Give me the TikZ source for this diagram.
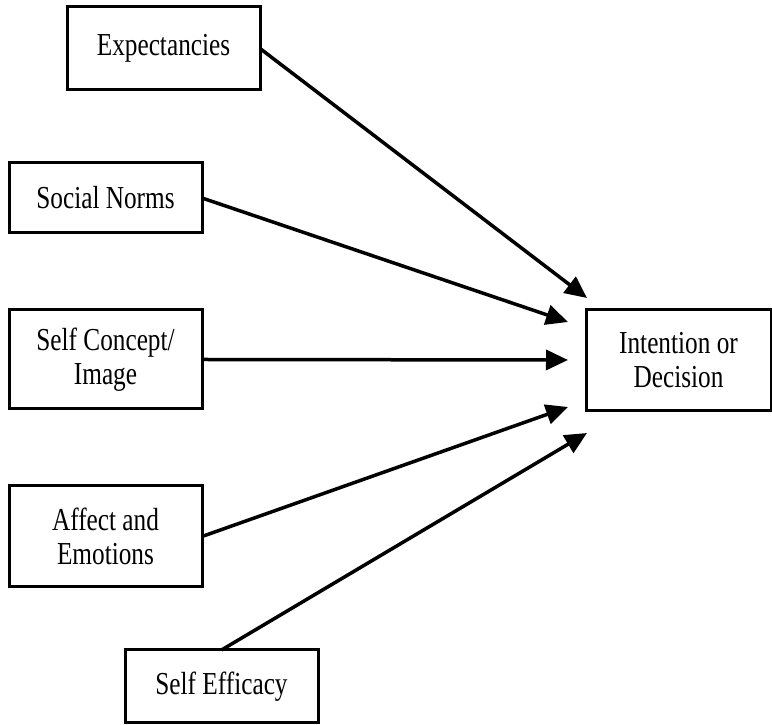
\documentclass[tikz,border=0pt]{standalone}
\usepackage{fontspec}
\setmainfont{Liberation Serif}[FakeStretch=0.79]
\usetikzlibrary{arrows.meta}
\begin{document}
\begin{tikzpicture}[x=1pt,y=1pt,
  box/.style={draw=black, line width=3pt, fill=white, inner sep=0pt, outer sep=0pt,
    align=center, font=\fontsize{32}{34}\selectfont, minimum width=193pt},
  arr/.style={line width=3.5pt, -{Triangle[length=22pt,width=20pt]}}]
\useasboundingbox (0,0) rectangle (772,725);
\node[box, minimum height=83pt] (exp) at (163.5,676.5) {Expectancies};
\node[box, minimum height=70pt] (soc) at (105.5,527) {Social Norms};
\node[box, minimum height=99pt] (con) at (105.5,365.5) {Self Concept/\\Image};
\node[box, minimum height=101pt] (aff) at (105.5,188.5) {Affect and\\Emotions};
\node[box, minimum height=73pt] (eff) at (221.5,38.5) {Self Efficacy};
\node[box, minimum width=185pt, minimum height=101pt] (int) at (678.5,364.5) {Intention or\\Decision};
\coordinate (t1) at (587,427);
\coordinate (t2) at (568,403);
\coordinate (t3) at (568,365);
\coordinate (t4) at (568,318);
\coordinate (t5) at (587,292);
\draw[arr] (exp.east) -- (t1);
\draw[arr] (soc.east) -- (t2);
\draw[arr] (con.east) -- (t3);
\draw[arr] (aff.east) -- (t4);
\draw[arr] (eff.north) -- (t5);
\end{tikzpicture}
\end{document}
